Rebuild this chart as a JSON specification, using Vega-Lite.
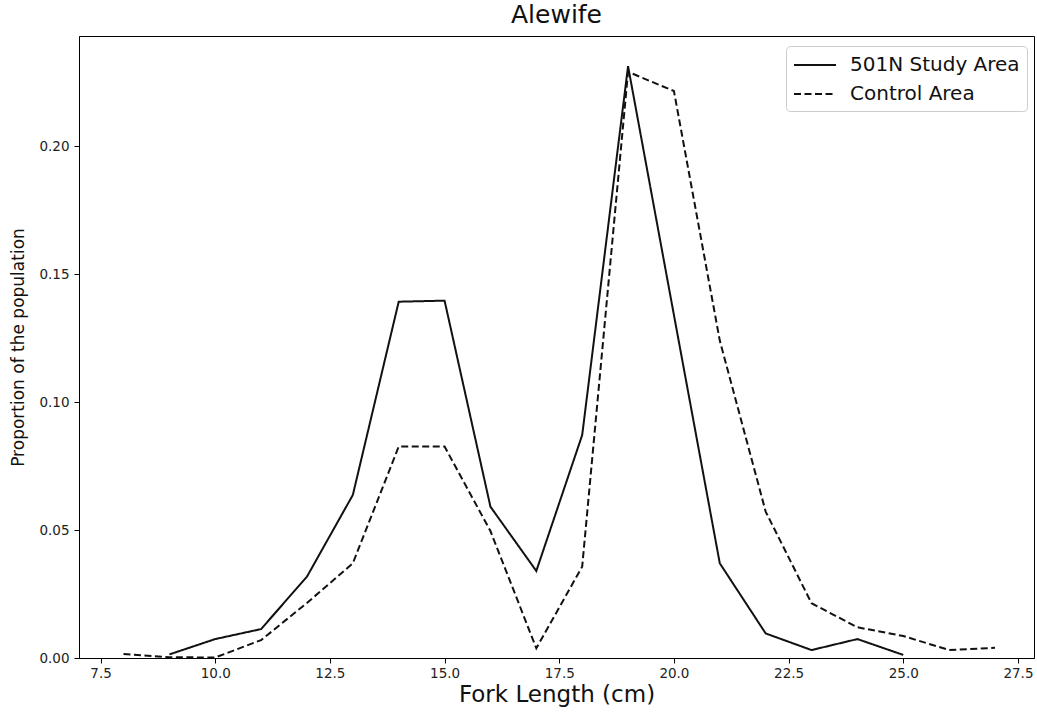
{
  "$schema": "https://vega.github.io/schema/vega-lite/v6.json",
  "width": 955,
  "height": 622,
  "autosize": {"type": "none"},
  "padding": {"left": 79, "top": 36, "right": 3, "bottom": 57},
  "background": "white",
  "title": {"text": "Alewife", "fontSize": 25, "font": "DejaVu Sans", "fontWeight": "normal", "color": "#111111", "offset": 8, "anchor": "middle"},
  "config": {
    "view": {"stroke": "black", "strokeWidth": 1},
    "axis": {
      "grid": false,
      "domainColor": "black",
      "tickColor": "black",
      "tickSize": 5,
      "labelFont": "DejaVu Sans",
      "labelFontSize": 13.5,
      "labelColor": "#222222",
      "titleFont": "DejaVu Sans",
      "titleFontWeight": "normal",
      "titleColor": "#111111"
    },
    "legend": {
      "labelFont": "DejaVu Sans",
      "labelFontSize": 20,
      "labelColor": "#111111",
      "labelLimit": 400
    }
  },
  "data": {"values": [
    {"length": 9, "proportion": 0.0014, "area": "501N Study Area"},
    {"length": 10, "proportion": 0.0074, "area": "501N Study Area"},
    {"length": 11, "proportion": 0.0113, "area": "501N Study Area"},
    {"length": 12, "proportion": 0.0318, "area": "501N Study Area"},
    {"length": 13, "proportion": 0.0637, "area": "501N Study Area"},
    {"length": 14, "proportion": 0.1392, "area": "501N Study Area"},
    {"length": 15, "proportion": 0.1396, "area": "501N Study Area"},
    {"length": 16, "proportion": 0.0591, "area": "501N Study Area"},
    {"length": 17, "proportion": 0.0340, "area": "501N Study Area"},
    {"length": 18, "proportion": 0.0871, "area": "501N Study Area"},
    {"length": 19, "proportion": 0.2312, "area": "501N Study Area"},
    {"length": 20, "proportion": 0.1340, "area": "501N Study Area"},
    {"length": 21, "proportion": 0.0370, "area": "501N Study Area"},
    {"length": 22, "proportion": 0.0096, "area": "501N Study Area"},
    {"length": 23, "proportion": 0.0031, "area": "501N Study Area"},
    {"length": 24, "proportion": 0.0074, "area": "501N Study Area"},
    {"length": 25, "proportion": 0.0012, "area": "501N Study Area"},
    {"length": 8, "proportion": 0.0016, "area": "Control Area"},
    {"length": 9, "proportion": 0.0003, "area": "Control Area"},
    {"length": 10, "proportion": 0.0002, "area": "Control Area"},
    {"length": 11, "proportion": 0.0070, "area": "Control Area"},
    {"length": 12, "proportion": 0.0215, "area": "Control Area"},
    {"length": 13, "proportion": 0.0370, "area": "Control Area"},
    {"length": 14, "proportion": 0.0826, "area": "Control Area"},
    {"length": 15, "proportion": 0.0826, "area": "Control Area"},
    {"length": 16, "proportion": 0.0496, "area": "Control Area"},
    {"length": 17, "proportion": 0.0038, "area": "Control Area"},
    {"length": 18, "proportion": 0.0357, "area": "Control Area"},
    {"length": 19, "proportion": 0.2290, "area": "Control Area"},
    {"length": 20, "proportion": 0.2215, "area": "Control Area"},
    {"length": 21, "proportion": 0.1240, "area": "Control Area"},
    {"length": 22, "proportion": 0.0572, "area": "Control Area"},
    {"length": 23, "proportion": 0.0214, "area": "Control Area"},
    {"length": 24, "proportion": 0.0120, "area": "Control Area"},
    {"length": 25, "proportion": 0.0086, "area": "Control Area"},
    {"length": 26, "proportion": 0.0031, "area": "Control Area"},
    {"length": 27, "proportion": 0.0040, "area": "Control Area"}
  ]},
  "mark": {"type": "line", "color": "#111111", "strokeWidth": 2},
  "encoding": {
    "x": {
      "field": "length", "type": "quantitative",
      "scale": {"domain": [7.03, 27.85], "nice": false, "zero": false},
      "axis": {"values": [7.5, 10, 12.5, 15, 17.5, 20, 22.5, 25, 27.5], "format": ".1f", "title": "Fork Length (cm)", "titleFontSize": 23, "labelPadding": 3, "titlePadding": 4}
    },
    "y": {
      "field": "proportion", "type": "quantitative",
      "scale": {"domain": [0, 0.243], "nice": false},
      "axis": {"values": [0, 0.05, 0.1, 0.15, 0.2], "format": ".2f", "title": "Proportion of the population", "titleFontSize": 17, "labelPadding": 5, "titlePadding": 11}
    },
    "strokeDash": {
      "field": "area", "type": "nominal",
      "scale": {"domain": ["501N Study Area", "Control Area"], "range": [[1, 0], [7, 3.5]]},
      "legend": {
        "title": null, "orient": "none", "legendX": 707, "legendY": 10,
        "symbolType": "M-1,0H2.82", "symbolSize": 484, "symbolStrokeWidth": 2, "symbolStrokeColor": "#111111", "symbolFillColor": "transparent",
        "labelOffset": 33, "padding": 7, "fillColor": "white", "strokeColor": "#cccccc", "cornerRadius": 4, "rowPadding": 7
      }
    }
  }
}
